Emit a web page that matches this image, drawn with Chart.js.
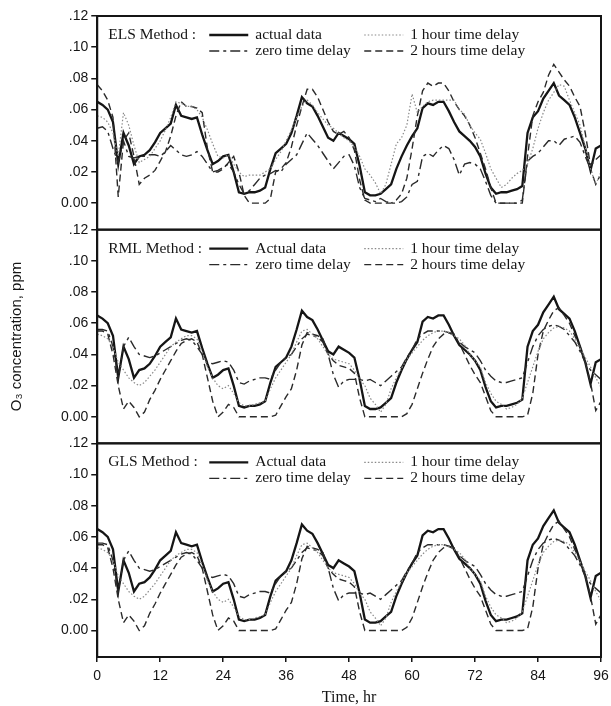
<!DOCTYPE html>
<html>
<head>
<meta charset="utf-8">
<script src="https://cdn.jsdelivr.net/npm/chart.js@4.4.1/dist/chart.umd.min.js"></script>
<style>
  html, body { margin: 0; padding: 0; background: #fff; }
  #wrap { width: 611px; height: 706px; }
</style>
</head>
<body>
<div id="wrap"><canvas id="chart" width="611" height="706"></canvas></div>
<script>
// ── Data ─────────────────────────────────────────────────────
const hours = [
  0, 1, 2, 3, 4, 5, 6, 7, 8, 9, 10, 11,
  12, 13, 14, 15, 16, 17, 18, 19, 20, 21, 22, 23,
  24, 25, 26, 27, 28, 29, 30, 31, 32, 33, 34, 35,
  36, 37, 38, 39, 40, 41, 42, 43, 44, 45, 46, 47,
  48, 49, 50, 51, 52, 53, 54, 55, 56, 57, 58, 59,
  60, 61, 62, 63, 64, 65, 66, 67, 68, 69, 70, 71,
  72, 73, 74, 75, 76, 77, 78, 79, 80, 81, 82, 83,
  84, 85, 86, 87, 88, 89, 90, 91, 92, 93, 94, 95, 96
];

const xTicks = [0, 12, 24, 36, 48, 60, 72, 84, 96];
const yTicks = [0, 0.02, 0.04, 0.06, 0.08, 0.10, 0.12];
const yTickLabels = ['0.00', '.02', '.04', '.06', '.08', '.10', '.12'];

const methodNames = ['ELS Method :', 'RML Method :', 'GLS Method :'];
const actualNames = ['actual data', 'Actual data', 'Actual data'];
const delayNames = ['zero time delay', '1 hour time delay', '2 hours time delay'];

const actualData = [
  .065, .063, .060, .052, .025, .045, .037, .025, .030, .031, .034, .039,
  .045, .048, .051, .063, .056, .055, .054, .055, .044, .034, .025, .027,
  .030, .031, .020, .007, .006, .007, .007, .008, .010, .022, .032, .035,
  .038, .045, .056, .068, .064, .062, .056, .049, .042, .040, .045, .043,
  .041, .038, .024, .007, .005, .005, .006, .009, .012, .022, .030, .037,
  .043, .048, .061, .064, .063, .065, .065, .059, .052, .046, .043, .040,
  .036, .030, .019, .010, .006, .007, .007, .008, .009, .011, .045, .055,
  .059, .067, .072, .077, .069, .066, .063, .055, .045, .035, .021, .035, .037
];

const elsZero = [
  .048, .049, .046, .035, .026, .040, .030, .029, .030, .030, .031, .031,
  .030, .033, .037, .034, .031, .030, .031, .033, .030, .025, .020, .021,
  .023, .025, .020, .012, .006, .008, .012, .016, .018, .019, .021, .020,
  .025, .028, .031, .038, .045, .041, .037, .032, .027, .022, .026, .030,
  .031, .024, .010, .003, .002, .001, .003, .001, .000, .000, .001, .004,
  .012, .014, .030, .032, .030, .034, .037, .035, .028, .018, .025, .026,
  .025, .022, .014, .005, .000, .000, .000, .000, .000, .002, .027, .030,
  .032, .036, .040, .040, .037, .041, .042, .043, .039, .030, .022, .012, .019
];

const elsOneHour = [
  .056, .055, .052, .045, .030, .058, .050, .037, .026, .028, .030, .035,
  .040, .047, .055, .065, .064, .062, .062, .060, .055, .047, .038, .030,
  .029, .031, .025, .020, .017, .018, .018, .018, .020, .022, .028, .033,
  .040, .047, .055, .062, .066, .063, .058, .054, .050, .048, .045, .042,
  .040, .036, .030, .022, .018, .013, .006, .012, .025, .038, .042, .050,
  .070, .058, .062, .065, .066, .066, .066, .066, .066, .060, .057, .050,
  .045, .041, .032, .022, .016, .010, .012, .016, .019, .021, .025, .035,
  .048, .058, .066, .071, .076, .075, .066, .058, .050, .036, .022, .012, .020
];

const elsTwoHour = [
  .076, .072, .066, .055, .004, .040, .045, .030, .012, .016, .018, .021,
  .027, .033, .043, .056, .065, .062, .062, .061, .058, .035, .020, .020,
  .022, .026, .030, .020, .005, .000, .000, .000, .000, .003, .020, .022,
  .026, .036, .050, .062, .073, .073, .068, .060, .052, .046, .044, .046,
  .042, .034, .015, .002, .000, .000, .000, .000, .000, .002, .006, .016,
  .035, .056, .072, .077, .075, .077, .077, .072, .065, .060, .056, .050,
  .042, .032, .022, .010, .000, .000, .000, .000, .000, .000, .030, .056,
  .065, .071, .082, .089, .084, .079, .075, .068, .062, .045, .024, .028, .031
];

const rmlZero = [
  .056, .056, .055, .045, .025, .045, .051, .045, .040, .039, .038, .039,
  .041, .043, .045, .047, .049, .050, .049, .045, .040, .035, .034, .035,
  .036, .035, .030, .022, .021, .023, .024, .025, .025, .024, .030, .035,
  .038, .040, .045, .050, .053, .052, .051, .048, .040, .027, .019, .023,
  .024, .024, .024, .023, .024, .022, .020, .023, .026, .029, .032, .038,
  .043, .050, .053, .055, .055, .055, .055, .054, .052, .048, .045, .043,
  .041, .036, .030, .026, .023, .022, .022, .023, .024, .025, .035, .045,
  .052, .056, .058, .059, .058, .056, .052, .048, .042, .035, .030, .027, .024
];

const rmlOneHour = [
  .053, .052, .050, .045, .035, .030, .025, .022, .020, .022, .026, .030,
  .035, .040, .045, .048, .050, .052, .052, .050, .042, .032, .025, .020,
  .018, .020, .015, .009, .007, .007, .008, .009, .010, .018, .025, .030,
  .035, .040, .048, .055, .056, .053, .050, .045, .040, .037, .036, .035,
  .034, .030, .024, .020, .012, .008, .003, .008, .018, .025, .031, .037,
  .041, .045, .049, .052, .054, .055, .055, .054, .052, .050, .046, .040,
  .036, .032, .022, .015, .010, .008, .005, .006, .008, .012, .022, .032,
  .042, .050, .054, .057, .058, .057, .055, .050, .044, .038, .032, .025, .019
];

const rmlTwoHour = [
  .055, .055, .053, .040, .020, .005, .010, .006, .000, .003, .011, .017,
  .024, .030, .036, .042, .047, .049, .050, .048, .040, .025, .010, .000,
  .003, .008, .006, .000, .000, .000, .000, .000, .000, .000, .001, .007,
  .013, .018, .030, .046, .054, .053, .052, .050, .040, .036, .033, .032,
  .031, .028, .012, .000, .000, .000, .000, .000, .000, .000, .000, .002,
  .008, .018, .028, .037, .045, .050, .053, .054, .053, .047, .040, .033,
  .027, .022, .013, .004, .000, .000, .000, .000, .000, .000, .001, .015,
  .040, .055, .062, .068, .070, .065, .060, .052, .045, .035, .022, .004, .010
];

const glsZero = [
  .056, .056, .055, .045, .025, .045, .051, .045, .040, .039, .038, .039,
  .041, .043, .045, .047, .049, .050, .049, .045, .040, .035, .034, .035,
  .036, .035, .030, .022, .021, .023, .024, .025, .025, .024, .030, .035,
  .038, .040, .045, .050, .053, .052, .051, .048, .040, .027, .019, .023,
  .024, .024, .024, .023, .024, .022, .020, .023, .026, .029, .032, .038,
  .043, .050, .053, .055, .055, .055, .055, .054, .052, .048, .045, .043,
  .041, .036, .030, .026, .023, .022, .022, .023, .024, .025, .035, .045,
  .052, .056, .058, .059, .058, .056, .052, .048, .042, .035, .030, .027, .024
];

const glsOneHour = [
  .053, .052, .050, .045, .035, .030, .025, .022, .020, .022, .026, .030,
  .035, .040, .045, .048, .050, .052, .052, .050, .042, .032, .025, .020,
  .018, .020, .015, .009, .007, .007, .008, .009, .010, .018, .025, .030,
  .035, .040, .048, .055, .056, .053, .050, .045, .040, .037, .036, .035,
  .034, .030, .024, .020, .012, .008, .003, .008, .018, .025, .031, .037,
  .041, .045, .049, .052, .054, .055, .055, .054, .052, .050, .046, .040,
  .036, .032, .022, .015, .010, .008, .005, .006, .008, .012, .022, .032,
  .042, .050, .054, .057, .058, .057, .055, .050, .044, .038, .032, .025, .019
];

const glsTwoHour = [
  .055, .055, .053, .040, .020, .005, .010, .006, .000, .003, .011, .017,
  .024, .030, .036, .042, .047, .049, .050, .048, .040, .025, .010, .000,
  .003, .008, .006, .000, .000, .000, .000, .000, .000, .000, .001, .007,
  .013, .018, .030, .046, .054, .053, .052, .050, .040, .036, .033, .032,
  .031, .028, .012, .000, .000, .000, .000, .000, .000, .000, .000, .002,
  .008, .018, .028, .037, .045, .050, .053, .054, .053, .047, .040, .033,
  .027, .022, .013, .004, .000, .000, .000, .000, .000, .000, .001, .015,
  .040, .055, .062, .068, .070, .065, .060, .052, .045, .035, .022, .004, .010
];

// ── Styles ───────────────────────────────────────────────────
const INK = '#151515';
const SANS = '"Liberation Sans", Arial, sans-serif';
const SERIF = '"Liberation Serif", "Times New Roman", serif';

const lineStyles = {
  actual: { borderColor: INK, borderWidth: 2.3, borderDash: [] },
  zero:   { borderColor: '#2a2a2a', borderWidth: 1.4, borderDash: [10, 4, 3, 4] },
  one:    { borderColor: '#888', borderWidth: 1.2, borderDash: [1.5, 2] },
  two:    { borderColor: '#2a2a2a', borderWidth: 1.4, borderDash: [7, 4] },
};

const panelAxes = ['yEls', 'yRml', 'yGls'];
const panelSeries = [
  { zero: elsZero, one: elsOneHour, two: elsTwoHour },
  { zero: rmlZero, one: rmlOneHour, two: rmlTwoHour },
  { zero: glsZero, one: glsOneHour, two: glsTwoHour },
];

function makeSet(data, style, axis) {
  return {
    data, yAxisID: axis, ...style,
    pointRadius: 0, tension: 0, fill: false, borderCapStyle: 'butt',
  };
}

const datasets = [];
panelSeries.forEach((p, i) => {
  const axis = panelAxes[i];
  datasets.push(makeSet(p.one, lineStyles.one, axis));
  datasets.push(makeSet(p.zero, lineStyles.zero, axis));
  datasets.push(makeSet(p.two, lineStyles.two, axis));
  datasets.push(makeSet(actualData, lineStyles.actual, axis));
});

function panelScale(weight, withTitle) {
  return {
    type: 'linear',
    position: 'left',
    stack: 'panels',
    stackWeight: 1,
    weight,
    min: -0.017,
    max: 0.12,
    afterBuildTicks: (s) => { s.ticks = yTicks.map(v => ({ value: v })); },
    ticks: {
      callback: (v) => yTickLabels[yTicks.indexOf(v)],
      font: { family: SANS, size: 14 },
      color: INK,
      padding: 3,
      autoSkip: false,
    },
    grid: { drawOnChartArea: false, drawTicks: true, tickLength: 6, color: INK, lineWidth: 1.5 },
    border: { display: true, color: INK, width: 2 },
    title: {
      display: withTitle,
      text: 'O\u2083 concentration, ppm',
      font: { family: SANS, size: 15 },
      color: INK,
      padding: { top: 4, bottom: 32 },
    },
  };
}

// frames round each panel, and the in-panel legends
const panelDecor = {
  id: 'panelDecor',
  afterDatasetsDraw(chart) {
    const { ctx, chartArea } = chart;
    const left = chartArea.left;
    ctx.save();
    panelAxes.forEach((id, i) => {
      const s = chart.scales[id];
      ctx.setLineDash([]);
      ctx.strokeStyle = INK;
      ctx.lineWidth = 2;
      ctx.strokeRect(left, s.top, chartArea.right - left, s.bottom - s.top);

      const row1 = s.top + 19;
      const row2 = s.top + 35;
      const items = [
        [lineStyles.actual, actualNames[i], 112, row1],
        [lineStyles.one, delayNames[1], 267, row1],
        [lineStyles.zero, delayNames[0], 112, row2],
        [lineStyles.two, delayNames[2], 267, row2],
      ];
      ctx.font = '15.5px ' + SERIF;
      ctx.fillStyle = INK;
      ctx.textBaseline = 'middle';
      ctx.textAlign = 'left';
      ctx.fillText(methodNames[i], left + 11, row1);
      items.forEach(([st, label, dx, y]) => {
        ctx.strokeStyle = st.borderColor;
        ctx.lineWidth = st.borderWidth;
        ctx.setLineDash(st.borderDash);
        ctx.beginPath();
        ctx.moveTo(left + dx, y);
        ctx.lineTo(left + dx + 39, y);
        ctx.stroke();
        ctx.setLineDash([]);
        ctx.fillText(label, left + dx + 46, y);
      });
    });
    ctx.restore();
  }
};

new Chart(document.getElementById('chart'), {
  type: 'line',
  data: { labels: hours, datasets },
  options: {
    responsive: false,
    animation: false,
    devicePixelRatio: 1,
    events: [],
    layout: { padding: { top: 16, right: 10, bottom: 0, left: 4 } },
    plugins: { legend: { display: false }, tooltip: { enabled: false } },
    scales: {
      x: {
        type: 'linear',
        min: 0,
        max: 96,
        afterBuildTicks: (s) => { s.ticks = xTicks.map(v => ({ value: v })); },
        // let the last label run to the canvas edge, as in the scan
        afterFit: (s) => { s.paddingRight = 0; s.paddingLeft = 0; },
        ticks: {
          font: { family: SANS, size: 14, lineHeight: 1 },
          color: INK, padding: 7, maxRotation: 0, autoSkip: false,
        },
        grid: { drawOnChartArea: false, drawTicks: true, tickLength: 5, color: INK, lineWidth: 1.5 },
        border: { display: true, color: INK, width: 2 },
        title: {
          display: true,
          text: 'Time, hr',
          font: { family: SERIF, size: 16, lineHeight: 1 },
          color: INK,
          padding: { top: 0, bottom: 0 },
        },
      },
      yEls: panelScale(3, false),
      yRml: panelScale(2, true),
      yGls: panelScale(1, false),
    },
  },
  plugins: [panelDecor],
});
</script>
</body>
</html>
